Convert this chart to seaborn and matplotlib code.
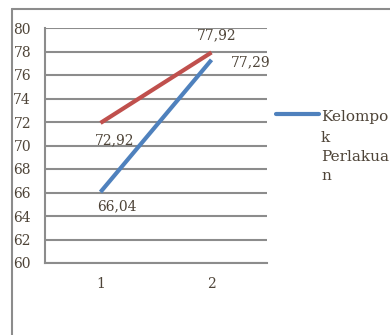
import matplotlib
matplotlib.use("Agg")
import matplotlib.pyplot as plt
from matplotlib.lines import Line2D
import seaborn as sns
import pandas as pd

# ---- data ----
categories = [1, 2]
red_values = [71.92, 77.92]          # plotted position of the red series
red_labels = ["72,92", "77,92"]      # data labels as printed
blue_values = [66.04, 77.29]
blue_labels = ["66,04", "77,29"]
legend_label = "Kelompo\nk\nPerlakua\nn"
y_ticks = [60, 62, 64, 66, 68, 70, 72, 74, 76, 78, 80]

RED = "#C0504D"
BLUE = "#4F81BD"
GRID = "#8c8c8c"
TXT = "#4e4438"
FS = 10

df = pd.DataFrame({
    "x": categories * 2,
    "y": red_values + blue_values,
    "series": ["red"] * 2 + ["blue"] * 2,
})

sns.set_style("white")
plt.rcParams["font.family"] = ["DejaVu Serif", "Liberation Serif"]

W, H = 390, 335
fig = plt.figure(figsize=(W / 100, H / 100), dpi=100)
ax = fig.add_axes([45 / W, 1 - 263 / H, (267 - 45) / W, (263 - 28) / H])

sns.lineplot(data=df, x="x", y="y", hue="series",
             palette={"red": RED, "blue": BLUE}, linewidth=3.0,
             legend=False, ax=ax, solid_capstyle="butt")

ax.set_xlim(0.5, 2.5)
ax.set_ylim(60, 80)
ax.set_yticks(y_ticks)
ax.set_yticklabels([str(v) for v in y_ticks])
ax.set_xticks(categories)
ax.set_xticklabels([str(c) for c in categories])
ax.set_xticks([0.5, 1.5, 2.5], minor=True)
ax.tick_params(axis="x", which="major", length=0, pad=10, labelsize=FS, colors=TXT)
ax.tick_params(axis="x", which="minor", length=3, width=1.2, color=GRID, direction="out")
ax.tick_params(axis="y", length=3, width=1.2, color=GRID, pad=7, labelsize=FS, labelcolor=TXT)
ax.set_xlabel("")
ax.set_ylabel("")

ax.grid(axis="y", color=GRID, linewidth=1.5)
ax.set_axisbelow(True)
for s in ["top", "right"]:
    ax.spines[s].set_visible(False)
for s in ["left", "bottom"]:
    ax.spines[s].set_color(GRID)
    ax.spines[s].set_linewidth(1.5)

# data labels (offsets in pixels)
def lab(text, x, y, dx, dy, ha="center"):
    ax.annotate(text, (x, y), xytext=(dx, dy), textcoords="offset pixels",
                ha=ha, va="center", fontsize=FS, color=TXT)

lab(red_labels[0], categories[0], red_values[0], 14, -17)
lab(red_labels[1], categories[1], red_values[1], 5, 17)
lab(blue_labels[0], categories[0], blue_values[0], 16, -14)
lab(blue_labels[1], categories[1], blue_values[1], 19, -2, ha="left")

# legend (blue series only): handle beside first line of wrapped label
fig.add_artist(Line2D([276 / W, 319 / W], [1 - 114 / H, 1 - 114 / H],
                      transform=fig.transFigure, color=BLUE, linewidth=3.0))
for line, yc in zip(legend_label.split("\n"), [115, 136, 156, 175]):
    fig.text(321 / W, 1 - yc / H, line, ha="left", va="center_baseline",
             fontsize=11, color=TXT)

# outer chart frame
fig.add_artist(Line2D([12 / W, 12 / W], [0, 1 - 9 / H],
                      transform=fig.transFigure, color=GRID, linewidth=1.5))
fig.add_artist(Line2D([12 / W, 1], [1 - 9 / H, 1 - 9 / H],
                      transform=fig.transFigure, color=GRID, linewidth=1.5))

fig.savefig("out.png", dpi=100)
